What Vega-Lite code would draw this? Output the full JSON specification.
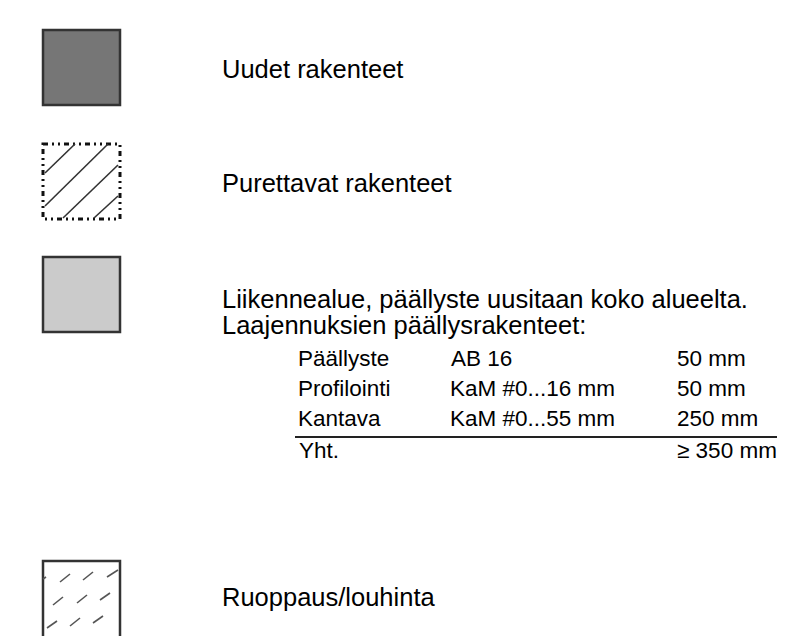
{
  "$schema": "https://vega.github.io/schema/vega-lite/v6.json",
  "width": 787,
  "height": 636,
  "autosize": {"type": "fit", "contains": "padding"},
  "padding": 0,
  "background": "#ffffff",
  "config": {"view": {"stroke": null}, "font": "Liberation Sans"},
  "datasets": {
    "boxes": [
      {"id": "uudet", "x": 43, "x2": 120, "y": 30, "y2": 105},
      {"id": "purettavat", "x": 43, "x2": 120, "y": 144, "y2": 219},
      {"id": "liikenne", "x": 43, "x2": 120, "y": 257, "y2": 332},
      {"id": "ruoppaus", "x": 43, "x2": 120, "y": 561, "y2": 645}
    ],
    "hatch": [
      {"kind": "purku", "n": 1, "x": 45, "y": 173, "x2": 75, "y2": 144},
      {"kind": "purku", "n": 2, "x": 45, "y": 206, "x2": 108, "y2": 144},
      {"kind": "purku", "n": 3, "x": 63, "y": 218, "x2": 118, "y2": 165},
      {"kind": "purku", "n": 4, "x": 94, "y": 218, "x2": 118, "y2": 196},
      {"kind": "ruoppaus", "n": 5, "x": 43, "y": 579, "x2": 46, "y2": 577},
      {"kind": "ruoppaus", "n": 6, "x": 60, "y": 582, "x2": 70, "y2": 574},
      {"kind": "ruoppaus", "n": 7, "x": 83, "y": 580, "x2": 93, "y2": 572},
      {"kind": "ruoppaus", "n": 8, "x": 107, "y": 577, "x2": 118, "y2": 570},
      {"kind": "ruoppaus", "n": 9, "x": 53, "y": 605, "x2": 63, "y2": 597},
      {"kind": "ruoppaus", "n": 10, "x": 77, "y": 603, "x2": 87, "y2": 595},
      {"kind": "ruoppaus", "n": 11, "x": 100, "y": 600, "x2": 110, "y2": 593},
      {"kind": "ruoppaus", "n": 12, "x": 47, "y": 628, "x2": 57, "y2": 621},
      {"kind": "ruoppaus", "n": 13, "x": 70, "y": 626, "x2": 80, "y2": 618},
      {"kind": "ruoppaus", "n": 14, "x": 93, "y": 623, "x2": 103, "y2": 616}
    ],
    "rules": [
      {"x": 295, "x2": 777, "y": 437}
    ],
    "texts": [
      {"kind": "label", "text": "Uudet rakenteet", "x": 222, "y": 78},
      {"kind": "label", "text": "Purettavat rakenteet", "x": 222, "y": 192},
      {"kind": "label", "text": "Liikennealue, päällyste uusitaan koko alueelta.", "x": 222, "y": 308},
      {"kind": "label", "text": "Laajennuksien päällysrakenteet:", "x": 222, "y": 334},
      {"kind": "label", "text": "Ruoppaus/louhinta", "x": 222, "y": 606},
      {"kind": "table", "text": "Päällyste", "x": 298, "y": 366},
      {"kind": "table", "text": "AB 16", "x": 451, "y": 366},
      {"kind": "table", "text": "50 mm", "x": 677, "y": 366},
      {"kind": "table", "text": "Profilointi", "x": 298, "y": 396},
      {"kind": "table", "text": "KaM #0...16 mm", "x": 450, "y": 396},
      {"kind": "table", "text": "50 mm", "x": 677, "y": 396},
      {"kind": "table", "text": "Kantava", "x": 298, "y": 426},
      {"kind": "table", "text": "KaM #0...55 mm", "x": 450, "y": 426},
      {"kind": "table", "text": "250 mm", "x": 677, "y": 426},
      {"kind": "table", "text": "Yht.", "x": 299, "y": 458},
      {"kind": "table", "text": "≥ 350 mm", "x": 677, "y": 458}
    ]
  },
  "layer": [
    {
      "data": {"name": "boxes"},
      "transform": [{"filter": "datum.id !== 'purettavat'"}],
      "mark": {"type": "rect", "stroke": "#333333", "strokeWidth": 2.5, "clip": true},
      "encoding": {
        "x": {"field": "x", "type": "quantitative", "scale": {"domain": [0, 787], "nice": false, "zero": false}, "axis": null},
        "x2": {"field": "x2"},
        "y": {"field": "y", "type": "quantitative", "scale": {"domain": [0, 636], "nice": false, "zero": false, "reverse": true}, "axis": null},
        "y2": {"field": "y2"},
        "fill": {"field": "id", "type": "nominal", "scale": {"domain": ["uudet", "liikenne", "ruoppaus"], "range": ["#767676", "#cbcbcb", "#ffffff"]}, "legend": null}
      }
    },
    {
      "data": {"name": "boxes"},
      "transform": [{"filter": "datum.id === 'purettavat'"}],
      "mark": {"type": "rect", "fill": null, "fillOpacity": 0, "stroke": "#111111", "strokeWidth": 3, "strokeDash": [5, 4, 2, 4, 2, 4]},
      "encoding": {
        "x": {"field": "x", "type": "quantitative", "axis": null},
        "x2": {"field": "x2"},
        "y": {"field": "y", "type": "quantitative", "axis": null},
        "y2": {"field": "y2"}
      }
    },
    {
      "data": {"name": "hatch"},
      "mark": {"type": "rule", "strokeWidth": 1.6},
      "encoding": {
        "x": {"field": "x", "type": "quantitative", "axis": null},
        "x2": {"field": "x2"},
        "y": {"field": "y", "type": "quantitative", "axis": null},
        "y2": {"field": "y2"},
        "detail": {"field": "n", "type": "nominal"},
        "color": {"field": "kind", "type": "nominal", "scale": {"domain": ["purku", "ruoppaus"], "range": ["#333333", "#555555"]}, "legend": null}
      }
    },
    {
      "data": {"name": "rules"},
      "mark": {"type": "rule", "strokeWidth": 2, "color": "#222222"},
      "encoding": {
        "x": {"field": "x", "type": "quantitative", "axis": null},
        "x2": {"field": "x2"},
        "y": {"field": "y", "type": "quantitative", "axis": null}
      }
    },
    {
      "data": {"name": "texts"},
      "transform": [{"filter": "datum.kind === 'label'"}],
      "mark": {"type": "text", "align": "left", "baseline": "alphabetic", "fontSize": 25.5, "font": "Liberation Sans", "color": "#000000"},
      "encoding": {
        "x": {"field": "x", "type": "quantitative", "axis": null},
        "y": {"field": "y", "type": "quantitative", "axis": null},
        "text": {"field": "text"}
      }
    },
    {
      "data": {"name": "texts"},
      "transform": [{"filter": "datum.kind === 'table'"}],
      "mark": {"type": "text", "align": "left", "baseline": "alphabetic", "fontSize": 22.5, "font": "Liberation Sans", "color": "#000000"},
      "encoding": {
        "x": {"field": "x", "type": "quantitative", "axis": null},
        "y": {"field": "y", "type": "quantitative", "axis": null},
        "text": {"field": "text"}
      }
    }
  ]
}
